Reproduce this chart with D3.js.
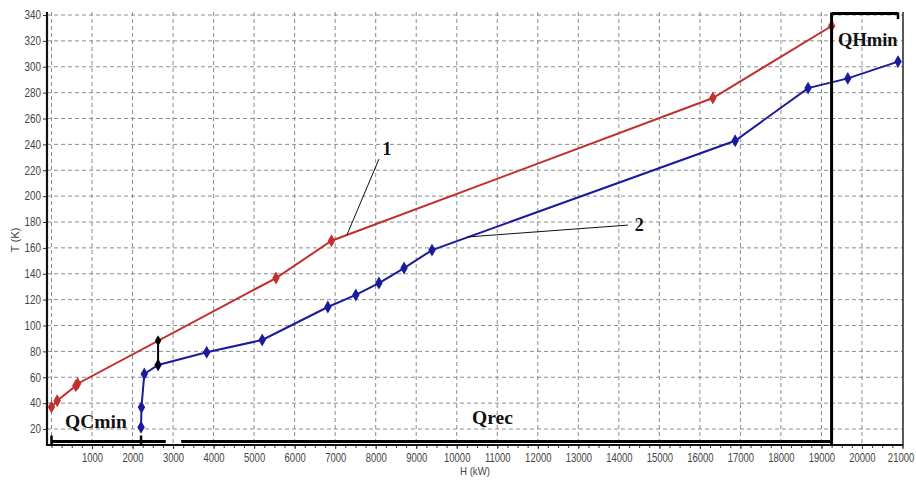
<!DOCTYPE html>
<html>
<head>
<meta charset="utf-8">
<script src="https://cdn.jsdelivr.net/npm/d3@7"></script>
<style>
  body { margin: 0; background: #fff; }
  svg { display: block; }
  .tick text { font-family: Arial, "Liberation Sans", sans-serif; font-size: 12px; fill: #444; }
  .tick line { stroke: #333; }
  .grid line { stroke: #8c8c8c; stroke-dasharray: 4,3; stroke-width: 1; }
  .note { font-family: "Liberation Serif", "Times New Roman", serif; font-weight: bold; fill: #111; }
  .title { font-family: Arial, "Liberation Sans", sans-serif; font-size: 11.5px; fill: #444; }
</style>
</head>
<body>
<svg id="chart" width="916" height="483"></svg>
<script>
// Hot composite curve (1): H (kW), T (K)
const hotH = [0, 140, 600, 645, 5540, 6910, 16320, 19250];
const hotT = [37, 41.8, 53.4, 55, 136.7, 165.5, 275.8, 331.5];

// Cold composite curve (2)
const coldH = [2210, 2220, 2290, 2630, 3830, 5200, 6820, 7510, 8080, 8700, 9390, 16870, 18670, 19650, 20890];
const coldT = [21.3, 36.8, 62.5, 69.5, 79.3, 88.8, 114.3, 123.6, 132.8, 144.4, 158.3, 242.8, 283.5, 291, 304];

// Pinch (minimum approach) marker
const pinchH = 2630;
const pinchT = [69.5, 88.2];

// Axis ticks
const xTicks = d3.range(1000, 21001, 1000);
const xGrid = d3.range(0, 20001, 1000);
const xMinor = d3.range(0, 21001, 250);
const yTicks = d3.range(20, 341, 20);

// Brackets: QCmin, Qrec, QHmin (in H units)
const qcMin = [0, 2820];
const qcTick = [0, 2210];
const qRec = [3200, 19250];
const qhMin = [19250, 20890];

const svg = d3.select('#chart');

const x = d3.scaleLinear().domain([0, 21000]).range([51.5, 902.5]);
const y = d3.scaleLinear().domain([20, 340]).range([429, 15]);

const plotLeft = 47, plotRight = 903, plotTop = 12, plotBottom = 445;

// Grid
svg.append('g').attr('class', 'grid')
  .selectAll('line').data(xGrid).join('line')
  .attr('x1', d => x(d)).attr('x2', d => x(d))
  .attr('y1', plotTop).attr('y2', plotBottom);

svg.append('g').attr('class', 'grid')
  .selectAll('line').data(yTicks).join('line')
  .attr('x1', plotLeft).attr('x2', plotRight)
  .attr('y1', d => y(d)).attr('y2', d => y(d));

// Axes
const yAxis = svg.append('g')
  .attr('transform', `translate(${plotLeft},0)`)
  .call(d3.axisLeft(y).tickValues(yTicks).tickSize(4).tickPadding(2));
yAxis.select('.domain').remove();
// narrow look of the original tick font
yAxis.selectAll('.tick text')
  .attr('textLength', function() { return this.textContent.length * 5.5; })
  .attr('lengthAdjust', 'spacingAndGlyphs');

const xAxis = svg.append('g')
  .attr('transform', `translate(0,${plotBottom})`)
  .call(d3.axisBottom(x).tickValues(xTicks).tickSize(4).tickPadding(4).tickFormat(d3.format('d')));
xAxis.select('.domain').remove();
xAxis.selectAll('.tick text').attr('transform', 'scale(0.79,1)');
// keep the last label inside the window
xAxis.selectAll('.tick text').filter(d => d === 21000).attr('dx', -2.5);

const xMinorAxis = svg.append('g')
  .attr('transform', `translate(0,${plotBottom})`)
  .call(d3.axisBottom(x).tickValues(xMinor).tickSize(3).tickFormat(''));
xMinorAxis.select('.domain').remove();

// Frame
svg.append('line').attr('x1', plotLeft).attr('x2', plotLeft).attr('y1', plotTop).attr('y2', plotBottom + 1)
  .attr('stroke', '#111').attr('stroke-width', 2.2);
svg.append('line').attr('x1', plotLeft).attr('x2', plotRight).attr('y1', plotBottom).attr('y2', plotBottom)
  .attr('stroke', '#111').attr('stroke-width', 2);
svg.append('line').attr('x1', plotRight).attr('x2', plotRight).attr('y1', plotTop).attr('y2', plotBottom)
  .attr('stroke', '#222').attr('stroke-width', 1.5);

// Axis titles
svg.append('text').attr('class', 'title')
  .attr('transform', 'translate(19,240) rotate(-90)')
  .attr('text-anchor', 'middle')
  .attr('textLength', 25).attr('lengthAdjust', 'spacingAndGlyphs')
  .text('T (K)');
svg.append('text').attr('class', 'title')
  .attr('x', 475).attr('y', 475)
  .attr('text-anchor', 'middle')
  .attr('textLength', 30).attr('lengthAdjust', 'spacingAndGlyphs')
  .text('H (kW)');

// Curves
const line = d3.line().x(d => x(d[0])).y(d => y(d[1]));
const diamond = d3.symbol().type(d3.symbolDiamond).size(48);

const drawSeries = (hs, ts, color) => {
  const pts = hs.map((h, i) => [h, ts[i]]);
  svg.append('path').datum(pts)
    .attr('d', line)
    .attr('fill', 'none')
    .attr('stroke', color)
    .attr('stroke-width', 2);
  svg.append('g').selectAll('path').data(pts).join('path')
    .attr('d', diamond)
    .attr('transform', d => `translate(${x(d[0])},${y(d[1])})`)
    .attr('fill', color);
};

drawSeries(hotH, hotT, '#c0302e');
drawSeries(coldH, coldT, '#1a1a9c');

// Pinch segment
svg.append('line')
  .attr('x1', x(pinchH)).attr('x2', x(pinchH))
  .attr('y1', y(pinchT[0])).attr('y2', y(pinchT[1]))
  .attr('stroke', '#000').attr('stroke-width', 2);
svg.append('g').selectAll('path').data(pinchT).join('path')
  .attr('d', d3.symbol().type(d3.symbolDiamond).size(36))
  .attr('transform', d => `translate(${x(pinchH)},${y(d)})`)
  .attr('fill', '#000');

// Brackets
const bracketY = plotBottom - 3.5;
const thick = (x1, x2, y1, y2, w) => svg.append('line')
  .attr('x1', x1).attr('x2', x2).attr('y1', y1).attr('y2', y2)
  .attr('stroke', '#000').attr('stroke-width', w);

thick(x(qcMin[0]), x(qcMin[1]), bracketY, bracketY, 3);
qcTick.forEach(h => thick(x(h), x(h), bracketY - 6, bracketY + 3, 2.5));
thick(x(qRec[0]), x(qRec[1]), bracketY, bracketY, 3);

// QHmin: vertical divider + top bracket
thick(x(qhMin[0]), x(qhMin[0]), 12.5, plotBottom, 3);
thick(x(qhMin[0]), x(qhMin[1]), 13.5, 13.5, 3);
thick(x(qhMin[1]), x(qhMin[1]), 12.5, 19, 2.5);

svg.append('text').attr('class', 'note').style('font-size', '19.5px')
  .attr('x', 65).attr('y', 428).text('QCmin');
svg.append('text').attr('class', 'note').style('font-size', '19.5px')
  .attr('x', 472).attr('y', 424).text('Qrec');
svg.append('text').attr('class', 'note').style('font-size', '18.5px')
  .attr('x', 838).attr('y', 46).text('QHmin');

// Curve labels with leader lines (data units)
const leaders = [
  { label: '1', from: [8080, 228.6], to: [7290, 170], at: [8170, 232] },
  { label: '2', from: [14224, 177.6], to: [10250, 168.4], at: [14390, 173] }
];
leaders.forEach(d => {
  svg.append('line')
    .attr('x1', x(d.from[0])).attr('y1', y(d.from[1]))
    .attr('x2', x(d.to[0])).attr('y2', y(d.to[1]))
    .attr('stroke', '#111').attr('stroke-width', 1);
  svg.append('text').attr('class', 'note').style('font-size', '18px')
    .attr('x', x(d.at[0])).attr('y', y(d.at[1])).text(d.label);
});
</script>
</body>
</html>
